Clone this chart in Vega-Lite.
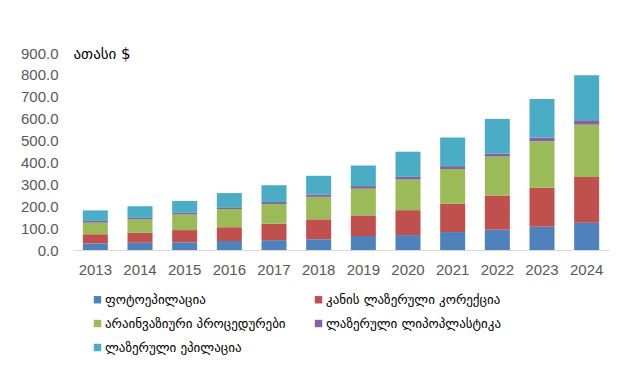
{
  "$schema": "https://vega.github.io/schema/vega-lite/v6.json",
  "autosize": {"type": "none"},
  "width": 536,
  "height": 197,
  "padding": {"left": 73, "top": 53, "right": 21, "bottom": 134},
  "background": "white",
  "config": {"view": {"stroke": null}},
  "data": {"values": [
    {"year":"2013","s":"ფოტოეპილაცია","o":1,"v":30},{"year":"2013","s":"კანის ლაზერული კორექცია","o":2,"v":42},{"year":"2013","s":"არაინვაზიური პროცედურები","o":3,"v":53},{"year":"2013","s":"ლაზერული ლიპოპლასტიკა","o":4,"v":8},{"year":"2013","s":"ლაზერული ეპილაცია","o":5,"v":48},
    {"year":"2014","s":"ფოტოეპილაცია","o":1,"v":33},{"year":"2014","s":"კანის ლაზერული კორექცია","o":2,"v":46},{"year":"2014","s":"არაინვაზიური პროცედურები","o":3,"v":61},{"year":"2014","s":"ლაზერული ლიპოპლასტიკა","o":4,"v":7},{"year":"2014","s":"ლაზერული ეპილაცია","o":5,"v":53},
    {"year":"2015","s":"ფოტოეპილაცია","o":1,"v":35},{"year":"2015","s":"კანის ლაზერული კორექცია","o":2,"v":56},{"year":"2015","s":"არაინვაზიური პროცედურები","o":3,"v":71},{"year":"2015","s":"ლაზერული ლიპოპლასტიკა","o":4,"v":8},{"year":"2015","s":"ლაზერული ეპილაცია","o":5,"v":54},
    {"year":"2016","s":"ფოტოეპილაცია","o":1,"v":41},{"year":"2016","s":"კანის ლაზერული კორექცია","o":2,"v":63},{"year":"2016","s":"არაინვაზიური პროცედურები","o":3,"v":83},{"year":"2016","s":"ლაზერული ლიპოპლასტიკა","o":4,"v":8},{"year":"2016","s":"ლაზერული ეპილაცია","o":5,"v":65},
    {"year":"2017","s":"ფოტოეპილაცია","o":1,"v":45},{"year":"2017","s":"კანის ლაზერული კორექცია","o":2,"v":75},{"year":"2017","s":"არაინვაზიური პროცედურები","o":3,"v":90},{"year":"2017","s":"ლაზერული ლიპოპლასტიკა","o":4,"v":9},{"year":"2017","s":"ლაზერული ეპილაცია","o":5,"v":77},
    {"year":"2018","s":"ფოტოეპილაცია","o":1,"v":49},{"year":"2018","s":"კანის ლაზერული კორექცია","o":2,"v":91},{"year":"2018","s":"არაინვაზიური პროცედურები","o":3,"v":103},{"year":"2018","s":"ლაზერული ლიპოპლასტიკა","o":4,"v":11},{"year":"2018","s":"ლაზერული ეპილაცია","o":5,"v":85},
    {"year":"2019","s":"ფოტოეპილაცია","o":1,"v":64},{"year":"2019","s":"კანის ლაზერული კორექცია","o":2,"v":94},{"year":"2019","s":"არაინვაზიური პროცედურები","o":3,"v":122},{"year":"2019","s":"ლაზერული ლიპოპლასტიკა","o":4,"v":12},{"year":"2019","s":"ლაზერული ეპილაცია","o":5,"v":94},
    {"year":"2020","s":"ფოტოეპილაცია","o":1,"v":68},{"year":"2020","s":"კანის ლაზერული კორექცია","o":2,"v":114},{"year":"2020","s":"არაინვაზიური პროცედურები","o":3,"v":140},{"year":"2020","s":"ლაზერული ლიპოპლასტიკა","o":4,"v":12},{"year":"2020","s":"ლაზერული ეპილაცია","o":5,"v":115},
    {"year":"2021","s":"ფოტოეპილაცია","o":1,"v":82},{"year":"2021","s":"კანის ლაზერული კორექცია","o":2,"v":129},{"year":"2021","s":"არაინვაზიური პროცედურები","o":3,"v":159},{"year":"2021","s":"ლაზერული ლიპოპლასტიკა","o":4,"v":13},{"year":"2021","s":"ლაზერული ეპილაცია","o":5,"v":131},
    {"year":"2022","s":"ფოტოეპილაცია","o":1,"v":93},{"year":"2022","s":"კანის ლაზერული კორექცია","o":2,"v":156},{"year":"2022","s":"არაინვაზიური პროცედურები","o":3,"v":178},{"year":"2022","s":"ლაზერული ლიპოპლასტიკა","o":4,"v":14},{"year":"2022","s":"ლაზერული ეპილაცია","o":5,"v":158},
    {"year":"2023","s":"ფოტოეპილაცია","o":1,"v":106},{"year":"2023","s":"კანის ლაზერული კორექცია","o":2,"v":178},{"year":"2023","s":"არაინვაზიური პროცედურები","o":3,"v":213},{"year":"2023","s":"ლაზერული ლიპოპლასტიკა","o":4,"v":17},{"year":"2023","s":"ლაზერული ეპილაცია","o":5,"v":176},
    {"year":"2024","s":"ფოტოეპილაცია","o":1,"v":125},{"year":"2024","s":"კანის ლაზერული კორექცია","o":2,"v":209},{"year":"2024","s":"არაინვაზიური პროცედურები","o":3,"v":239},{"year":"2024","s":"ლაზერული ლიპოპლასტიკა","o":4,"v":20},{"year":"2024","s":"ლაზერული ეპილაცია","o":5,"v":205}
  ]},
  "mark": {"type": "bar"},
  "encoding": {
    "x": {
      "field": "year", "type": "nominal",
      "scale": {"paddingInner": 0.44, "paddingOuter": 0.22},
      "axis": {
        "title": null, "labelAngle": 0, "ticks": false, "domainColor": "#D9D9D9", "domainWidth": 1,
        "labelFont": "Liberation Sans", "labelFontSize": 15, "labelColor": "#595959", "labelPadding": 12
      }
    },
    "y": {
      "field": "v", "type": "quantitative", "stack": "zero",
      "scale": {"domain": [0, 900], "nice": false},
      "axis": {
        "values": [0,100,200,300,400,500,600,700,800,900], "format": ".1f",
        "grid": false, "domain": false, "ticks": false,
        "labelFont": "Liberation Sans", "labelFontSize": 15, "labelColor": "#595959", "labelPadding": 15,
        "title": "ათასი $", "titleAngle": 0, "titleAlign": "left", "titleBaseline": "middle",
        "titleX": 0, "titleY": 0, "titleFont": "DejaVu Sans", "titleFontSize": 15, "titleFontWeight": "normal", "titleColor": "#000000"
      }
    },
    "color": {
      "field": "s", "type": "nominal",
      "scale": {
        "domain": ["ფოტოეპილაცია", "კანის ლაზერული კორექცია", "არაინვაზიური პროცედურები", "ლაზერული ლიპოპლასტიკა", "ლაზერული ეპილაცია"],
        "range": ["#4F81BD", "#C0504D", "#9BBB59", "#8064A2", "#4BACC6"]
      },
      "legend": {
        "title": null, "orient": "none", "legendX": 18, "legendY": 240, "columns": 2, "direction": "horizontal",
        "symbolType": "square", "symbolSize": 55, "symbolStrokeWidth": 0,
        "labelFont": "DejaVu Sans", "labelFontSize": 13, "labelColor": "#000000", "labelLimit": 300,
        "rowPadding": 10, "columnPadding": 26, "labelOffset": 1
      }
    },
    "order": {"field": "o", "type": "quantitative"}
  }
}
